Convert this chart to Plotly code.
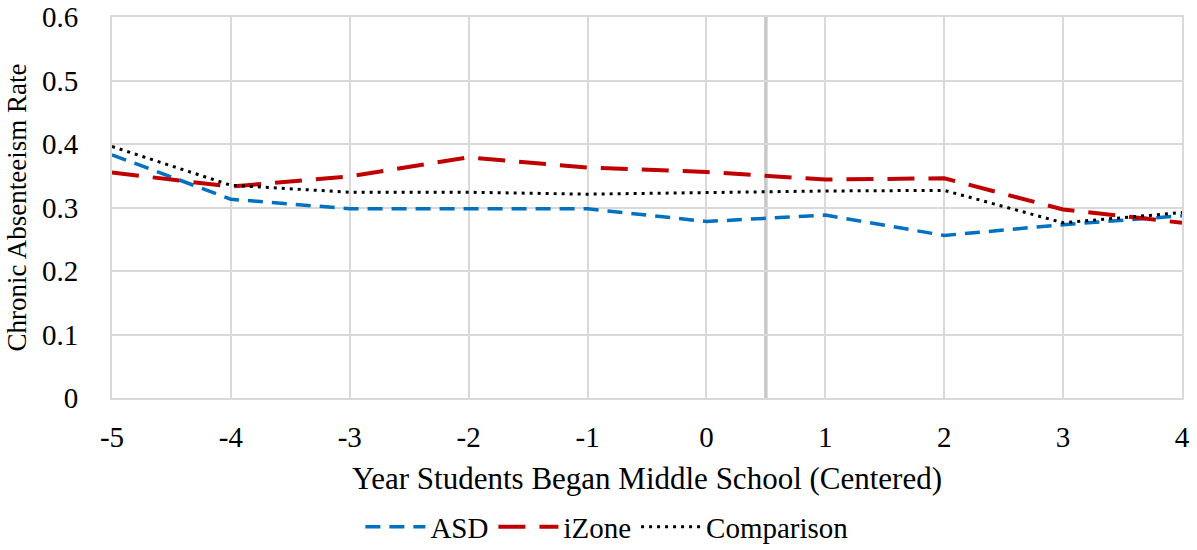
import plotly.graph_objects as go

years = [-5, -4, -3, -2, -1, 0, 1, 2, 3, 4]
x_tick_labels = ["-5", "-4", "-3", "-2", "-1", "0", "1", "2", "3", "4"]
asd = [0.383, 0.313, 0.298, 0.298, 0.298, 0.278, 0.288, 0.256, 0.273, 0.287]
izone = [0.355, 0.333, 0.349, 0.379, 0.363, 0.356, 0.344, 0.346, 0.297, 0.276]
comparison = [0.396, 0.335, 0.324, 0.324, 0.321, 0.324, 0.326, 0.327, 0.276, 0.292]
y_ticks = [0, 0.1, 0.2, 0.3, 0.4, 0.5, 0.6]
y_tick_labels = ["0", "0.1", "0.2", "0.3", "0.4", "0.5", "0.6"]
cut_year = 0.5

font = "Liberation Serif"

fig = go.Figure()
fig.add_trace(go.Scatter(x=years, y=asd, name="ASD", mode="lines",
                         line=dict(color="#0070C0", width=3.5, dash="15px,9px")))
fig.add_trace(go.Scatter(x=years, y=izone, name="iZone", mode="lines",
                         line=dict(color="#C00000", width=4, dash="27px,14px")))
fig.add_trace(go.Scatter(x=years, y=comparison, name="Comparison", mode="lines",
                         line=dict(color="#000000", width=3, dash="3px,5px")))

fig.add_shape(type="line", xref="x", yref="paper", x0=cut_year, x1=cut_year, y0=0, y1=1,
              line=dict(color="#C8C8C8", width=3.5), layer="below")

fig.update_layout(
    width=1197, height=550,
    margin=dict(l=112, r=15, t=17, b=152, autoexpand=False),
    paper_bgcolor="white", plot_bgcolor="white",
    font=dict(family=font, color="black"),
    showlegend=True,
    legend=dict(orientation="h", xref="container", yref="container",
                x=0.507, xanchor="center", y=0.042, yanchor="middle",
                font=dict(size=29, family=font), itemwidth=60, tracegroupgap=0),
    xaxis=dict(range=[-5, 4], tickvals=years, ticktext=x_tick_labels, showgrid=True,
               gridcolor="#D9D9D9", gridwidth=2, automargin=False,
               zeroline=False, showline=True, linecolor="#D9D9D9", linewidth=2, mirror=True,
               tickfont=dict(size=29, family=font), ticks="", ticklabelstandoff=12,
               title=dict(text="Year Students Began Middle School (Centered)",
                          font=dict(size=31, family=font), standoff=16)),
    yaxis=dict(range=[0, 0.6], tickvals=y_ticks, ticktext=y_tick_labels, showgrid=True,
               gridcolor="#D9D9D9", gridwidth=2, zeroline=False, showline=True, automargin=False,
               linecolor="#D9D9D9", linewidth=2, mirror=True,
               tickfont=dict(size=29, family=font), ticks="", ticklabelstandoff=26,
               title=dict(text="Chronic Absenteeism Rate", font=dict(size=27, family=font),
                          standoff=8)),
)

fig.write_html("out.html", config={"displayModeBar": False},
               post_script="document.body.style.margin='0';")
